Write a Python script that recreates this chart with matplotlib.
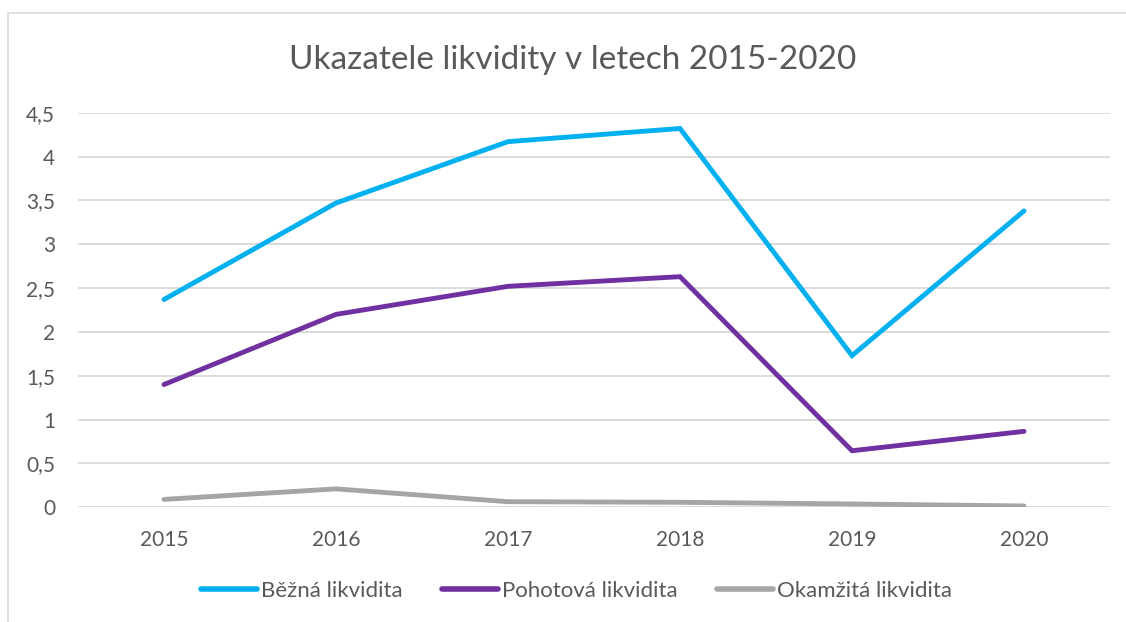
import matplotlib
matplotlib.use("Agg")
import matplotlib.pyplot as plt
from matplotlib.patches import Rectangle

years = ["2015", "2016", "2017", "2018", "2019", "2020"]
bezna = [2.37, 3.47, 4.17, 4.32, 1.73, 3.38]
pohotova = [1.40, 2.20, 2.52, 2.63, 0.645, 0.866]
okamzita = [0.09, 0.21, 0.064, 0.057, 0.038, 0.015]
series_names = ["Běžná likvidita", "Pohotová likvidita", "Okamžitá likvidita"]
yticks = [0, 0.5, 1, 1.5, 2, 2.5, 3, 3.5, 4, 4.5]
ytick_labels = ["0", "0,5", "1", "1,5", "2", "2,5", "3", "3,5", "4", "4,5"]

plt.rcParams['font.family'] = ['Lato', 'DejaVu Sans']
W, H = 1126, 622
fig = plt.figure(figsize=(W / 100, H / 100), dpi=100)
fig.patch.set_facecolor("white")

# outer chart border
fig.patches.append(Rectangle((8 / W, -0.1), 1.2, 1 - 13 / H + 0.1, transform=fig.transFigure,
                             fill=False, edgecolor="#d9d9d9", linewidth=1.2))

ax = fig.add_axes([78 / W, 1 - 507.3 / H, (1110 - 78) / W, (507.3 - 112.7) / H])
x = list(range(len(years)))
colors = ["#00b0f0", "#7030a0", "#a5a5a5"]
lw = 3.5
for vals, c, name in zip([bezna, pohotova, okamzita], colors, series_names):
    ax.plot(x, vals, color=c, lw=lw, solid_capstyle="round", solid_joinstyle="miter", label=name, zorder=3)

ax.set_xlim(-0.5, len(years) - 0.5)
ax.set_ylim(0, 4.5)
ax.set_yticks(yticks)
ax.set_yticklabels(ytick_labels)
ax.set_xticks(x)
ax.set_xticklabels(years)
for s in ax.spines.values():
    s.set_visible(False)
ax.grid(axis="y", color="#d9d9d9", lw=1.3, zorder=0)
ax.set_axisbelow(True)
ax.tick_params(axis="both", length=0, labelsize=15, labelcolor="#595959")
ax.tick_params(axis="y", pad=16.5)
ax.tick_params(axis="x", pad=16)

fig.text(573 / W, 1 - 69 / H, "Ukazatele likvidity v letech 2015-2020", ha="center", va="baseline",
         fontsize=24, color="#595959")

leg = fig.legend(loc="center", bbox_to_anchor=(576.5 / W, 1 - 591 / H), ncol=3, frameon=False,
                 fontsize=16, handlelength=2.5, handletextpad=0.18, columnspacing=1.8,
                 labelcolor="#595959")
for h in leg.get_lines():
    h.set_linewidth(4)
    h.set_solid_capstyle("round")

fig.savefig("out.png", dpi=100)
